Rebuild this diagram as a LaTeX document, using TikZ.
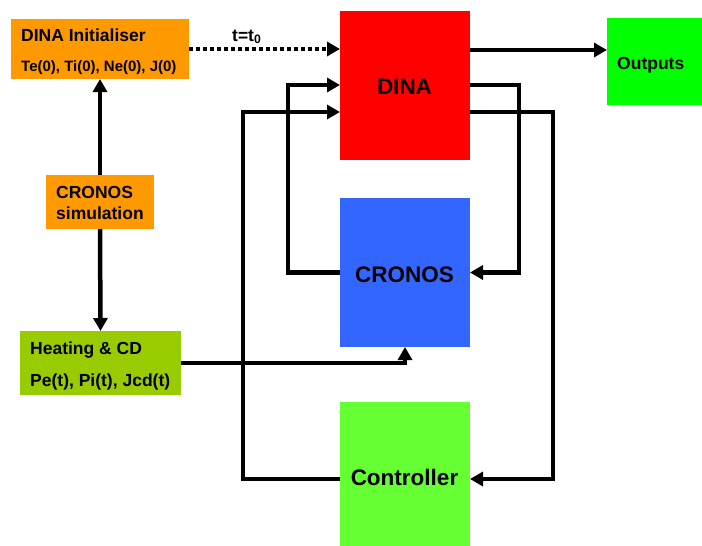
\documentclass[tikz,border=0pt]{standalone}
\usepackage{fontspec}
\setmainfont{Liberation Sans}
\usetikzlibrary{arrows.meta,calc}
\definecolor{orangebox}{HTML}{FF9900}
\definecolor{redbox}{HTML}{FF0000}
\definecolor{outbox}{HTML}{00FF00}
\definecolor{bluebox}{HTML}{3366FF}
\definecolor{ctrlbox}{HTML}{66FF33}
\definecolor{heatbox}{HTML}{99CC00}
\begin{document}
\begin{tikzpicture}[x=1pt,y=-1pt,
  box/.style={draw=none,inner sep=0pt,outer sep=0pt},
  small/.style={inner sep=0pt,font=\fontsize{17.5}{20}\selectfont\bfseries},
  tiny/.style={inner sep=0pt,font=\fontsize{15}{18}\selectfont\bfseries},
  big/.style={inner sep=0pt,font=\fontsize{22.5}{26}\selectfont\bfseries},
  conn/.style={line width=4.5pt,line join=miter},
  arr/.style={conn,-{Triangle[length=13pt,width=14pt]}},
  dotarr/.style={arr,dash pattern=on 4pt off 3pt}]
\useasboundingbox (0,0) rectangle (702,546);

% boxes
\node[box,fill=orangebox,minimum width=178pt,minimum height=60pt] (init) at (100,49) {};
\node[box,fill=orangebox,minimum width=108pt,minimum height=54pt] (cronsim) at (100,202) {};
\node[box,fill=heatbox,minimum width=161pt,minimum height=64pt] (heat) at (100.5,363) {};
\node[box,fill=redbox,minimum width=130pt,minimum height=149pt] (dina) at (405,85.5) {};
\node[box,fill=bluebox,minimum width=130pt,minimum height=149pt] (cronos) at (405,272.5) {};
\node[box,fill=ctrlbox,minimum width=130pt,minimum height=144pt] (ctrl) at (405,474) {};
\node[box,fill=outbox,minimum width=95pt,minimum height=87pt] (outputs) at (654.5,61.5) {};

% texts
\node[small,anchor=base west] (tinit1) at (21,41) {DINA Initialiser};
\node[tiny,anchor=base west] (tinit2) at (21,71) {Te(0), Ti(0), Ne(0), J(0)};
\node[small,anchor=base west] (tcs1) at (56,198) {CRONOS};
\node[small,anchor=base west] (tcs2) at (56,219) {simulation};
\node[small,anchor=base west] (theat1) at (30,354) {Heating \& CD};
\node[small,anchor=base west] (theat2) at (30,386) {Pe(t), Pi(t), Jcd(t)};
\node[small,anchor=base west] (tout) at (617,69) {Outputs};
\node[small,anchor=base west] (tt0) at (232,41) {t=t$_{\mathbf{0}}$};
\node[big,anchor=base] (tdina) at (404.5,94) {DINA};
\node[big,anchor=base] (tcronos) at (404.5,282) {CRONOS};
\node[big,anchor=base] (tctrl) at (404.5,485) {Controller};

% port coordinates
\coordinate (dout) at ([yshift=-39pt]dina.north east);
\coordinate (dinA) at ([yshift=-74pt]dina.north west);
\coordinate (dinB) at ([yshift=-101pt]dina.north west);
\coordinate (doutA) at ([yshift=-74pt]dina.north east);
\coordinate (doutB) at ([yshift=-101pt]dina.north east);
\coordinate (cw) at ([yshift=-5pt]ctrl.west);
\coordinate (ce) at ([yshift=-5pt]ctrl.east);
\coordinate (railL1) at (288,180);
\coordinate (railL2) at (243,300);
\coordinate (railR1) at (519,180);
\coordinate (railR2) at (553,300);

% connectors
\draw[dotarr] (init.east) -- (init.east -| dina.west);
\draw[arr] (dout) -- (dout -| outputs.west);
\draw[arr] (cronsim.north) -- (init.south);
\draw[arr] (cronsim.south) -- (heat.north);
\draw[arr] (heat.east) -| (cronos.south);
\draw[arr] (cronos.west) -| (railL1) |- (dinA);
\draw[arr] (cw) -| (railL2) |- (dinB);
\draw[arr] (doutA) -| (railR1) |- (cronos.east);
\draw[arr] (doutB) -| (railR2) |- (ce);
\end{tikzpicture}
\end{document}
